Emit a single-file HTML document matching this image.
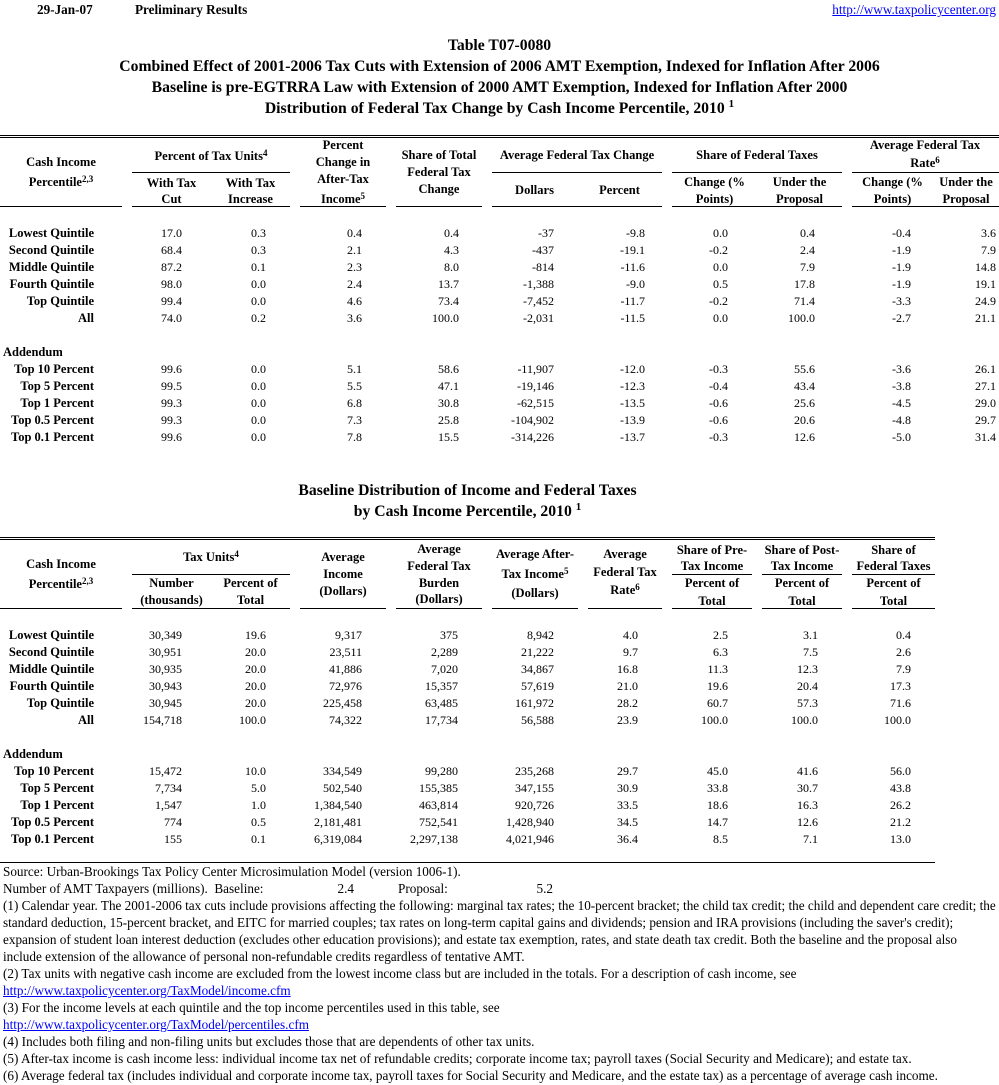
<!DOCTYPE html>
<html><head><meta charset="utf-8">
<style>
body{margin:0;width:999px;height:1085px;position:relative;overflow:hidden;background:#fff;font-family:"Liberation Serif",serif;color:#000}
.a{position:absolute;white-space:nowrap;font-size:13.2px;line-height:14px}
.b{font-weight:bold}
.t{position:absolute;white-space:nowrap;font-size:15.7px;line-height:18px;font-weight:bold;text-align:center;left:0;width:999px}
.h{position:absolute;white-space:nowrap;font-size:12.5px;line-height:14px;font-weight:bold;text-align:center}
.l{position:absolute;height:1px;background:#000}
.r{position:absolute;left:0;width:999px;height:14px;font-size:12px;line-height:14px}
.r span{position:absolute;white-space:nowrap;top:0}
.r .lab{right:905px;font-weight:bold;font-size:12.5px}
.r .add{left:3px;font-weight:bold;font-size:12.5px}
.s{font-size:9px;position:relative;top:-4px;vertical-align:baseline}
a{color:#00f;text-decoration:underline}
.r .a1{right:817px}.r .a2{right:733px}.r .a3{right:637px}.r .a4{right:540px}.r .a5{right:445px}
.r .a6{right:354px}.r .a7{right:271px}.r .a8{right:184px}.r .a9{right:88px}.r .a10{right:3px}
.r .b1{right:817px}.r .b2{right:733px}.r .b3{right:637px}.r .b4{right:541px}.r .b5{right:445px}
.r .b6{right:361px}.r .b7{right:271px}.r .b8{right:181px}.r .b9{right:88px}
</style></head><body>

<div class="a b" style="left:37px;top:3px">29-Jan-07</div>
<div class="a b" style="left:135px;top:3px">Preliminary Results</div>
<div class="a" style="right:3px;top:3px"><a>http://www.taxpolicycenter.org</a></div>

<div class="t" style="top:37px">Table T07-0080</div>
<div class="t" style="top:58px">Combined Effect of 2001-2006 Tax Cuts with Extension of 2006 AMT Exemption, Indexed for Inflation After 2006</div>
<div class="t" style="top:79px">Baseline is pre-EGTRRA Law with Extension of 2000 AMT Exemption, Indexed for Inflation After 2000</div>
<div class="t" style="top:100px">Distribution of Federal Tax Change by Cash Income Percentile, 2010 <span style="font-size:11px;position:relative;top:-6px">1</span></div>

<!-- Table 1 lines -->
<div class="l" style="top:135px;left:0;width:999px"></div>
<div class="l" style="top:137px;left:0;width:999px"></div>
<div class="l" style="top:172px;left:132px;width:158px"></div>
<div class="l" style="top:172px;left:492px;width:170px"></div>
<div class="l" style="top:172px;left:672px;width:170px"></div>
<div class="l" style="top:172px;left:852px;width:147px"></div>
<div class="l" style="top:206px;left:0;width:122px"></div>
<div class="l" style="top:206px;left:132px;width:158px"></div>
<div class="l" style="top:206px;left:300px;width:86px"></div>
<div class="l" style="top:206px;left:396px;width:86px"></div>
<div class="l" style="top:206px;left:492px;width:170px"></div>
<div class="l" style="top:206px;left:672px;width:170px"></div>
<div class="l" style="top:206px;left:852px;width:147px"></div>

<!-- Table 1 headers -->
<div class="h" style="left:0;width:122px;top:155px">Cash Income</div>
<div class="h" style="left:0;width:122px;top:175px">Percentile<span class="s">2,3</span></div>
<div class="h" style="left:132px;width:158px;top:149px">Percent of Tax Units<span class="s">4</span></div>
<div class="h" style="left:132px;width:79px;top:176px">With Tax</div>
<div class="h" style="left:132px;width:79px;top:192px">Cut</div>
<div class="h" style="left:211px;width:79px;top:176px">With Tax</div>
<div class="h" style="left:211px;width:79px;top:192px">Increase</div>
<div class="h" style="left:300px;width:86px;top:138px">Percent</div>
<div class="h" style="left:300px;width:86px;top:155px">Change in</div>
<div class="h" style="left:300px;width:86px;top:172px">After-Tax</div>
<div class="h" style="left:300px;width:86px;top:192px">Income<span class="s">5</span></div>
<div class="h" style="left:396px;width:86px;top:148px">Share of Total</div>
<div class="h" style="left:396px;width:86px;top:165px">Federal Tax</div>
<div class="h" style="left:396px;width:86px;top:182px">Change</div>
<div class="h" style="left:492px;width:170px;top:148px">Average Federal Tax Change</div>
<div class="h" style="left:492px;width:85px;top:183px">Dollars</div>
<div class="h" style="left:577px;width:85px;top:183px">Percent</div>
<div class="h" style="left:672px;width:170px;top:148px">Share of Federal Taxes</div>
<div class="h" style="left:672px;width:85px;top:175px">Change (%</div>
<div class="h" style="left:672px;width:85px;top:192px">Points)</div>
<div class="h" style="left:757px;width:85px;top:175px">Under the</div>
<div class="h" style="left:757px;width:85px;top:192px">Proposal</div>
<div class="h" style="left:852px;width:146px;top:138px">Average Federal Tax</div>
<div class="h" style="left:852px;width:146px;top:156px">Rate<span class="s">6</span></div>
<div class="h" style="left:852px;width:81px;top:175px">Change (%</div>
<div class="h" style="left:852px;width:81px;top:192px">Points)</div>
<div class="h" style="left:937px;width:58px;top:175px">Under the</div>
<div class="h" style="left:937px;width:58px;top:192px">Proposal</div>

<!-- Table 1 rows -->
<div class="r" style="top:226px"><span class="lab">Lowest Quintile</span><span class="a1">17.0</span><span class="a2">0.3</span><span class="a3">0.4</span><span class="a4">0.4</span><span class="a5">-37</span><span class="a6">-9.8</span><span class="a7">0.0</span><span class="a8">0.4</span><span class="a9">-0.4</span><span class="a10">3.6</span></div>
<div class="r" style="top:243px"><span class="lab">Second Quintile</span><span class="a1">68.4</span><span class="a2">0.3</span><span class="a3">2.1</span><span class="a4">4.3</span><span class="a5">-437</span><span class="a6">-19.1</span><span class="a7">-0.2</span><span class="a8">2.4</span><span class="a9">-1.9</span><span class="a10">7.9</span></div>
<div class="r" style="top:260px"><span class="lab">Middle Quintile</span><span class="a1">87.2</span><span class="a2">0.1</span><span class="a3">2.3</span><span class="a4">8.0</span><span class="a5">-814</span><span class="a6">-11.6</span><span class="a7">0.0</span><span class="a8">7.9</span><span class="a9">-1.9</span><span class="a10">14.8</span></div>
<div class="r" style="top:277px"><span class="lab">Fourth Quintile</span><span class="a1">98.0</span><span class="a2">0.0</span><span class="a3">2.4</span><span class="a4">13.7</span><span class="a5">-1,388</span><span class="a6">-9.0</span><span class="a7">0.5</span><span class="a8">17.8</span><span class="a9">-1.9</span><span class="a10">19.1</span></div>
<div class="r" style="top:294px"><span class="lab">Top Quintile</span><span class="a1">99.4</span><span class="a2">0.0</span><span class="a3">4.6</span><span class="a4">73.4</span><span class="a5">-7,452</span><span class="a6">-11.7</span><span class="a7">-0.2</span><span class="a8">71.4</span><span class="a9">-3.3</span><span class="a10">24.9</span></div>
<div class="r" style="top:311px"><span class="lab">All</span><span class="a1">74.0</span><span class="a2">0.2</span><span class="a3">3.6</span><span class="a4">100.0</span><span class="a5">-2,031</span><span class="a6">-11.5</span><span class="a7">0.0</span><span class="a8">100.0</span><span class="a9">-2.7</span><span class="a10">21.1</span></div>
<div class="r" style="top:345px"><span class="add">Addendum</span></div>
<div class="r" style="top:362px"><span class="lab">Top 10 Percent</span><span class="a1">99.6</span><span class="a2">0.0</span><span class="a3">5.1</span><span class="a4">58.6</span><span class="a5">-11,907</span><span class="a6">-12.0</span><span class="a7">-0.3</span><span class="a8">55.6</span><span class="a9">-3.6</span><span class="a10">26.1</span></div>
<div class="r" style="top:379px"><span class="lab">Top 5 Percent</span><span class="a1">99.5</span><span class="a2">0.0</span><span class="a3">5.5</span><span class="a4">47.1</span><span class="a5">-19,146</span><span class="a6">-12.3</span><span class="a7">-0.4</span><span class="a8">43.4</span><span class="a9">-3.8</span><span class="a10">27.1</span></div>
<div class="r" style="top:396px"><span class="lab">Top 1 Percent</span><span class="a1">99.3</span><span class="a2">0.0</span><span class="a3">6.8</span><span class="a4">30.8</span><span class="a5">-62,515</span><span class="a6">-13.5</span><span class="a7">-0.6</span><span class="a8">25.6</span><span class="a9">-4.5</span><span class="a10">29.0</span></div>
<div class="r" style="top:413px"><span class="lab">Top 0.5 Percent</span><span class="a1">99.3</span><span class="a2">0.0</span><span class="a3">7.3</span><span class="a4">25.8</span><span class="a5">-104,902</span><span class="a6">-13.9</span><span class="a7">-0.6</span><span class="a8">20.6</span><span class="a9">-4.8</span><span class="a10">29.7</span></div>
<div class="r" style="top:430px"><span class="lab">Top 0.1 Percent</span><span class="a1">99.6</span><span class="a2">0.0</span><span class="a3">7.8</span><span class="a4">15.5</span><span class="a5">-314,226</span><span class="a6">-13.7</span><span class="a7">-0.3</span><span class="a8">12.6</span><span class="a9">-5.0</span><span class="a10">31.4</span></div>

<!-- Table 2 title -->
<div class="t" style="top:482px;width:935px">Baseline Distribution of Income and Federal Taxes</div>
<div class="t" style="top:503px;width:935px">by Cash Income Percentile, 2010 <span style="font-size:11px;position:relative;top:-6px">1</span></div>

<!-- Table 2 lines -->
<div class="l" style="top:537px;left:0;width:935px"></div>
<div class="l" style="top:539px;left:0;width:935px"></div>
<div class="l" style="top:574px;left:132px;width:158px"></div>
<div class="l" style="top:574px;left:672px;width:80px"></div>
<div class="l" style="top:574px;left:762px;width:80px"></div>
<div class="l" style="top:574px;left:852px;width:83px"></div>
<div class="l" style="top:608px;left:0;width:122px"></div>
<div class="l" style="top:608px;left:132px;width:158px"></div>
<div class="l" style="top:608px;left:300px;width:86px"></div>
<div class="l" style="top:608px;left:396px;width:86px"></div>
<div class="l" style="top:608px;left:492px;width:86px"></div>
<div class="l" style="top:608px;left:588px;width:74px"></div>
<div class="l" style="top:608px;left:672px;width:80px"></div>
<div class="l" style="top:608px;left:762px;width:80px"></div>
<div class="l" style="top:608px;left:852px;width:83px"></div>
<div class="l" style="top:862px;left:0;width:935px"></div>

<!-- Table 2 headers -->
<div class="h" style="left:0;width:122px;top:557px">Cash Income</div>
<div class="h" style="left:0;width:122px;top:577px">Percentile<span class="s">2,3</span></div>
<div class="h" style="left:132px;width:158px;top:550px">Tax Units<span class="s">4</span></div>
<div class="h" style="left:132px;width:79px;top:576px">Number</div>
<div class="h" style="left:132px;width:79px;top:593px">(thousands)</div>
<div class="h" style="left:211px;width:79px;top:576px">Percent of</div>
<div class="h" style="left:211px;width:79px;top:593px">Total</div>
<div class="h" style="left:300px;width:86px;top:550px">Average</div>
<div class="h" style="left:300px;width:86px;top:567px">Income</div>
<div class="h" style="left:300px;width:86px;top:584px">(Dollars)</div>
<div class="h" style="left:396px;width:86px;top:542px">Average</div>
<div class="h" style="left:396px;width:86px;top:559px">Federal Tax</div>
<div class="h" style="left:396px;width:86px;top:576px">Burden</div>
<div class="h" style="left:396px;width:86px;top:592px">(Dollars)</div>
<div class="h" style="left:492px;width:86px;top:547px">Average After-</div>
<div class="h" style="left:492px;width:86px;top:567px">Tax Income<span class="s">5</span></div>
<div class="h" style="left:492px;width:86px;top:586px">(Dollars)</div>
<div class="h" style="left:588px;width:74px;top:547px">Average</div>
<div class="h" style="left:588px;width:74px;top:565px">Federal Tax</div>
<div class="h" style="left:588px;width:74px;top:583px">Rate<span class="s">6</span></div>
<div class="h" style="left:672px;width:80px;top:543px">Share of Pre-</div>
<div class="h" style="left:672px;width:80px;top:559px">Tax Income</div>
<div class="h" style="left:672px;width:80px;top:576px">Percent of</div>
<div class="h" style="left:672px;width:80px;top:594px">Total</div>
<div class="h" style="left:762px;width:80px;top:543px">Share of Post-</div>
<div class="h" style="left:762px;width:80px;top:559px">Tax Income</div>
<div class="h" style="left:762px;width:80px;top:576px">Percent of</div>
<div class="h" style="left:762px;width:80px;top:594px">Total</div>
<div class="h" style="left:852px;width:83px;top:543px">Share of</div>
<div class="h" style="left:852px;width:83px;top:559px">Federal Taxes</div>
<div class="h" style="left:852px;width:83px;top:576px">Percent of</div>
<div class="h" style="left:852px;width:83px;top:594px">Total</div>

<!-- Table 2 rows -->
<div class="r" style="top:628px"><span class="lab">Lowest Quintile</span><span class="b1">30,349</span><span class="b2">19.6</span><span class="b3">9,317</span><span class="b4">375</span><span class="b5">8,942</span><span class="b6">4.0</span><span class="b7">2.5</span><span class="b8">3.1</span><span class="b9">0.4</span></div>
<div class="r" style="top:645px"><span class="lab">Second Quintile</span><span class="b1">30,951</span><span class="b2">20.0</span><span class="b3">23,511</span><span class="b4">2,289</span><span class="b5">21,222</span><span class="b6">9.7</span><span class="b7">6.3</span><span class="b8">7.5</span><span class="b9">2.6</span></div>
<div class="r" style="top:662px"><span class="lab">Middle Quintile</span><span class="b1">30,935</span><span class="b2">20.0</span><span class="b3">41,886</span><span class="b4">7,020</span><span class="b5">34,867</span><span class="b6">16.8</span><span class="b7">11.3</span><span class="b8">12.3</span><span class="b9">7.9</span></div>
<div class="r" style="top:679px"><span class="lab">Fourth Quintile</span><span class="b1">30,943</span><span class="b2">20.0</span><span class="b3">72,976</span><span class="b4">15,357</span><span class="b5">57,619</span><span class="b6">21.0</span><span class="b7">19.6</span><span class="b8">20.4</span><span class="b9">17.3</span></div>
<div class="r" style="top:696px"><span class="lab">Top Quintile</span><span class="b1">30,945</span><span class="b2">20.0</span><span class="b3">225,458</span><span class="b4">63,485</span><span class="b5">161,972</span><span class="b6">28.2</span><span class="b7">60.7</span><span class="b8">57.3</span><span class="b9">71.6</span></div>
<div class="r" style="top:713px"><span class="lab">All</span><span class="b1">154,718</span><span class="b2">100.0</span><span class="b3">74,322</span><span class="b4">17,734</span><span class="b5">56,588</span><span class="b6">23.9</span><span class="b7">100.0</span><span class="b8">100.0</span><span class="b9">100.0</span></div>
<div class="r" style="top:747px"><span class="add">Addendum</span></div>
<div class="r" style="top:764px"><span class="lab">Top 10 Percent</span><span class="b1">15,472</span><span class="b2">10.0</span><span class="b3">334,549</span><span class="b4">99,280</span><span class="b5">235,268</span><span class="b6">29.7</span><span class="b7">45.0</span><span class="b8">41.6</span><span class="b9">56.0</span></div>
<div class="r" style="top:781px"><span class="lab">Top 5 Percent</span><span class="b1">7,734</span><span class="b2">5.0</span><span class="b3">502,540</span><span class="b4">155,385</span><span class="b5">347,155</span><span class="b6">30.9</span><span class="b7">33.8</span><span class="b8">30.7</span><span class="b9">43.8</span></div>
<div class="r" style="top:798px"><span class="lab">Top 1 Percent</span><span class="b1">1,547</span><span class="b2">1.0</span><span class="b3">1,384,540</span><span class="b4">463,814</span><span class="b5">920,726</span><span class="b6">33.5</span><span class="b7">18.6</span><span class="b8">16.3</span><span class="b9">26.2</span></div>
<div class="r" style="top:815px"><span class="lab">Top 0.5 Percent</span><span class="b1">774</span><span class="b2">0.5</span><span class="b3">2,181,481</span><span class="b4">752,541</span><span class="b5">1,428,940</span><span class="b6">34.5</span><span class="b7">14.7</span><span class="b8">12.6</span><span class="b9">21.2</span></div>
<div class="r" style="top:832px"><span class="lab">Top 0.1 Percent</span><span class="b1">155</span><span class="b2">0.1</span><span class="b3">6,319,084</span><span class="b4">2,297,138</span><span class="b5">4,021,946</span><span class="b6">36.4</span><span class="b7">8.5</span><span class="b8">7.1</span><span class="b9">13.0</span></div>

<!-- Footnotes -->
<div class="a" style="left:3px;top:865px">Source: Urban-Brookings Tax Policy Center Microsimulation Model (version 1006-1).</div>
<div class="a" style="left:3px;top:882px">Number of AMT Taxpayers (millions).&nbsp; Baseline:</div>
<div class="a" style="right:645px;top:882px">2.4</div>
<div class="a" style="left:398px;top:882px">Proposal:</div>
<div class="a" style="right:446px;top:882px">5.2</div>
<div class="a" style="left:3px;top:899px">(1) Calendar year. The 2001-2006 tax cuts include provisions affecting the following: marginal tax rates; the 10-percent bracket; the child tax credit; the child and dependent care credit; the</div>
<div class="a" style="left:3px;top:916px">standard deduction, 15-percent bracket, and EITC for married couples; tax rates on long-term capital gains and dividends; pension and IRA provisions (including the saver's credit);</div>
<div class="a" style="left:3px;top:933px">expansion of student loan interest deduction (excludes other education provisions); and estate tax exemption, rates, and state death tax credit. Both the baseline and the proposal also</div>
<div class="a" style="left:3px;top:950px">include extension of the allowance of personal non-refundable credits regardless of tentative AMT.</div>
<div class="a" style="left:3px;top:967px">(2) Tax units with negative cash income are excluded from the lowest income class but are included in the totals. For a description of cash income, see</div>
<div class="a" style="left:3px;top:984px"><a>http://www.taxpolicycenter.org/TaxModel/income.cfm</a></div>
<div class="a" style="left:3px;top:1001px">(3) For the income levels at each quintile and the top income percentiles used in this table, see</div>
<div class="a" style="left:3px;top:1018px"><a>http://www.taxpolicycenter.org/TaxModel/percentiles.cfm</a></div>
<div class="a" style="left:3px;top:1035px">(4) Includes both filing and non-filing units but excludes those that are dependents of other tax units.</div>
<div class="a" style="left:3px;top:1052px">(5) After-tax income is cash income less: individual income tax net of refundable credits; corporate income tax; payroll taxes (Social Security and Medicare); and estate tax.</div>
<div class="a" style="left:3px;top:1069px">(6) Average federal tax (includes individual and corporate income tax, payroll taxes for Social Security and Medicare, and the estate tax) as a percentage of average cash income.</div>

</body></html>
